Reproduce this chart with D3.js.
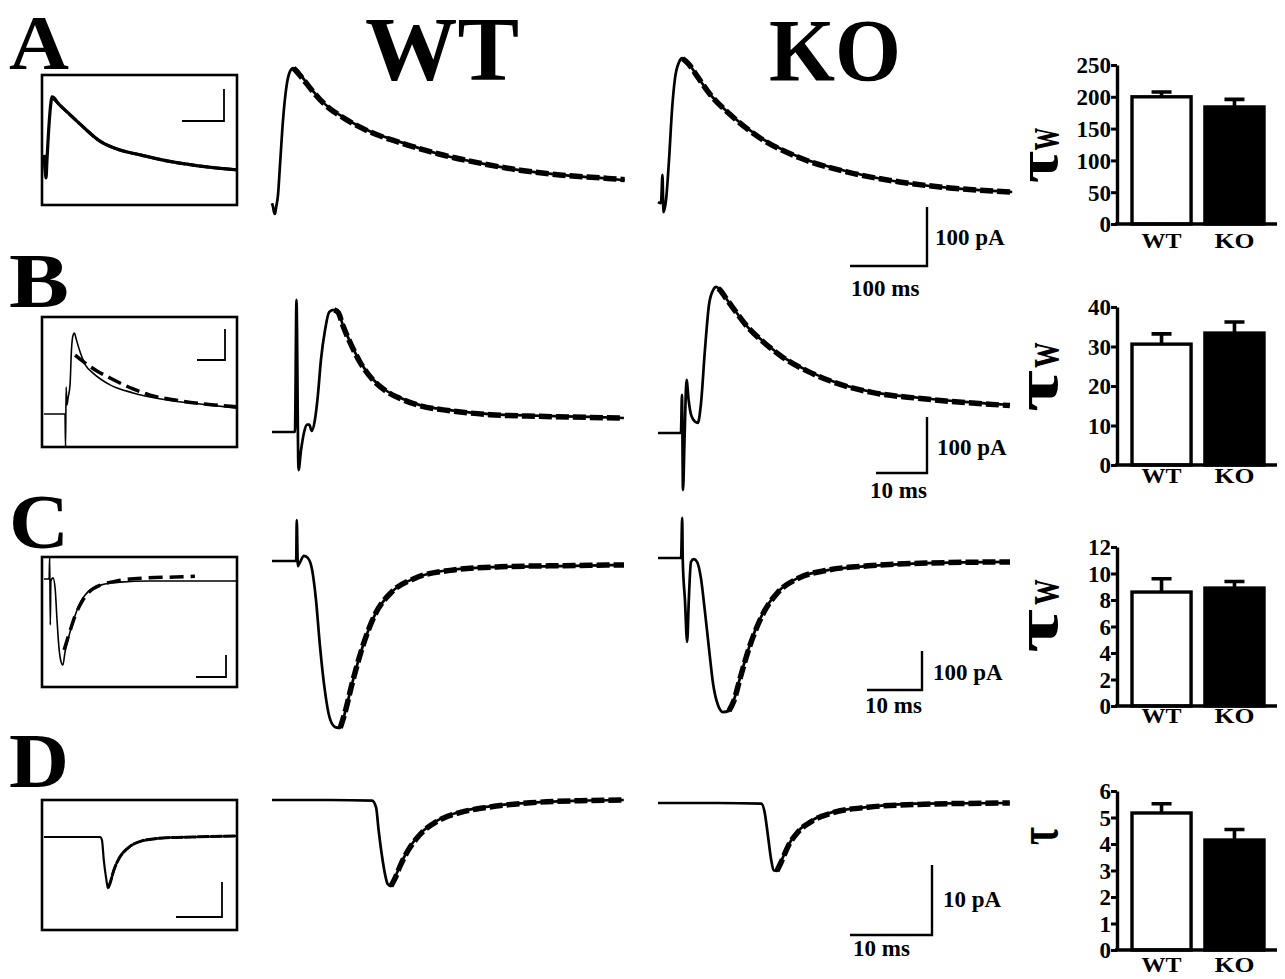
<!DOCTYPE html>
<html>
<head>
<meta charset="utf-8">
<script src="https://cdn.jsdelivr.net/npm/d3@7/dist/d3.min.js"></script>
<style>
  body { margin: 0; background: #fff; }
  text { font-family: "Liberation Serif", "Times New Roman", serif; font-weight: bold; fill: #000; }
</style>
</head>
<body>
<svg id="fig" width="1285" height="979"></svg>
<script>
// ---- data: traces as [time ms, current pA] ----
const aWt = [[0,3],[1.3,-3],[2.6,-12],[3.9,-15],[5.2,-5],[7.8,17],[10.4,68],[14.3,144],[18.2,195],[22.1,222],[27.3,232],[32.5,229],[40.3,215],[51.9,195],[68.8,171],[94.8,147],[127,125],[166,107],[218,86],[270,71],[322,59],[374,51],[426,46],[458,42]];
const aWtFit = [[28,232],[40,214],[52,194],[69,170],[95,146],[127,124],[166,106],[218,86],[270,71],[322,59],[374,51],[426,46],[458,43]];
const aKo = [[0,5],[3.9,3],[5.8,51],[7.1,-12],[10.4,8],[14.3,76],[18.2,161],[22.1,215],[27.3,242],[31.2,249],[39,241],[50.6,219],[67.5,188],[93.5,154],[132,115],[184,81],[249,56],[314,39],[379,29],[460,22]];
const aKoFit = [[32,248],[39,240],[51,218],[68,187],[94,153],[132,114],[184,80],[249,55],[314,39],[379,29],[460,22]];
const aInset = [[0,63],[2.4,16],[4.8,-9],[7.1,47],[11.9,156],[16.7,228],[19,244],[23.8,241],[33,225],[55,197],[86,159],[133,106],[181,78],[229,63],[293,44],[371,28],[460,16]];
const aInsetFit = [[19,244],[33,225],[55,197],[86,159],[133,106],[181,78],[229,63],[293,44],[371,28],[460,16]];

const bWt = [[0,0],[4.5,0],[4.8,236],[5.2,-68],[5.7,-32],[6.3,0],[6.9,13],[7.3,13],[7.8,2],[8.4,21],[9.0,66],[9.6,129],[10.4,182],[11.2,214],[12.0,218],[13.0,214],[13.9,191],[15.3,161],[17.3,125],[19.6,96],[22.2,75],[25.1,61],[29.0,48],[34.9,39],[42.7,32],[52.5,29],[62.4,27],[69,25]];
const bWtFit = [[12.2,218],[13,213],[13.9,190],[15.3,160],[17.3,124],[19.6,95],[22.2,74],[25.1,60],[29,47],[34.9,38],[42.7,31],[52.5,28],[62.4,26],[69,25]];
const bKo = [[0,0],[4.5,0],[4.7,68],[4.9,-102],[5.2,-12],[5.6,95],[6.0,59],[6.5,32],[7.3,20],[7.8,18],[8.4,50],[9.2,148],[10.0,229],[10.8,255],[11.4,261],[12.2,255],[13.3,241],[15.3,216],[17.6,189],[20.6,164],[24.5,136],[29.4,111],[35.3,89],[42.2,73],[51.0,63],[60.8,55],[69.0,50]];
const bKoFit = [[11.8,258],[12.2,255],[13.3,241],[15.3,216],[17.6,189],[20.6,163],[24.5,135],[29.4,110],[35.3,88],[42.2,72],[51,62],[60.8,54],[69,49]];
const bInset = [[0,0],[7.5,0],[7.7,-106],[7.9,87],[8.2,29],[8.6,52],[9.3,94],[9.8,206],[10.4,255],[10.9,261],[11.4,245],[12.9,200],[15,155],[17.5,132],[23.6,94],[31.8,68],[43.9,45],[55.7,32],[68.9,19]];
const bInsetFit = [[11.1,190],[14.6,165],[18.9,139],[23.6,116],[31.8,81],[37.9,61],[46.8,45],[57.5,32],[68.9,23]];

const cWt = [[0,0],[4.4,0],[4.5,105],[4.7,-13],[5.1,-3],[5.8,13],[6.5,8],[7.3,-23],[8.0,-100],[8.7,-215],[9.6,-331],[10.5,-403],[11.5,-426],[12.4,-428],[13.3,-387],[14.5,-318],[16.4,-223],[18.7,-138],[21.8,-79],[26.0,-44],[32.4,-23],[41.5,-15],[52.4,-13],[64.0,-10]];
const cWtFit = [[12.4,-428],[13.3,-387],[14.5,-318],[16.4,-223],[18.7,-138],[21.8,-79],[26,-44],[32.4,-24],[41.5,-15],[52.4,-12],[64,-10]];
const cKo = [[0,0],[4.2,0],[4.4,103],[4.5,-5],[4.9,-108],[5.3,-215],[5.6,-108],[6.0,-10],[6.5,-3],[7.1,-10],[7.8,-51],[8.5,-133],[9.3,-236],[10.0,-321],[10.9,-377],[11.8,-395],[12.9,-392],[13.8,-364],[14.9,-308],[16.7,-223],[19.1,-141],[21.8,-87],[25.5,-51],[30.9,-31],[38.2,-21],[49.1,-13],[64,-10]];
const cKoFit = [[12.9,-392],[13.8,-366],[14.9,-310],[16.7,-225],[19.1,-143],[21.8,-88],[25.5,-52],[30.9,-31],[38.2,-20],[49.1,-13],[64,-10]];
const cInset = [[0,0],[1.7,0],[1.9,100],[2.1,-209],[2.3,-9],[3,5],[3.7,-41],[4.3,-177],[5,-314],[5.7,-377],[6.3,-391],[7,-332],[8,-277],[9.3,-209],[10.3,-168],[12,-109],[13.7,-73],[16.3,-41],[20.3,-23],[25.3,-14],[35.3,-9],[64.3,-9]];
const cInsetFit = [[6.7,-323],[8.7,-235],[10.3,-170],[13,-95],[16.3,-45],[24.3,-9],[34.3,5],[43.7,9],[50.3,12]];

const dWt = [[0,0],[7.1,0],[12.2,-0.1],[12.7,-1.1],[13.0,-4.3],[13.4,-7.9],[13.8,-10.7],[14.1,-12.0],[14.5,-12.3],[15.0,-11.1],[15.6,-9.4],[16.6,-7.1],[18.0,-4.9],[20.2,-2.9],[22.9,-1.7],[26.6,-0.9],[31.5,-0.4],[37.6,-0.1],[42.9,0]];
const dWtFit = [[14.5,-12.3],[15,-11.2],[15.6,-9.5],[16.6,-7.2],[18,-5],[20.2,-3],[22.9,-1.8],[26.6,-1],[31.5,-0.4],[37.6,-0.1],[42.9,0]];
const dKo = [[0,0],[7.3,0],[12.6,-0.1],[13.0,-1.3],[13.4,-4.6],[13.8,-8.1],[14.1,-9.6],[14.5,-9.7],[15.0,-8.4],[15.9,-6.0],[17.1,-4.0],[18.9,-2.4],[21.3,-1.3],[25.6,-0.6],[31.7,-0.1],[42.9,0]];
const dKoFit = [[14.5,-9.7],[15,-8.5],[15.9,-6.1],[17.1,-4.1],[18.9,-2.5],[21.3,-1.4],[25.6,-0.6],[31.7,-0.2],[42.9,0]];
const dInset = [[0,0],[12.2,0],[12.6,-0.9],[13,-6.6],[13.5,-11.7],[13.9,-14.6],[14.3,-13.4],[15.2,-9.4],[16.5,-5.7],[18.3,-3.1],[21.3,-1.1],[25.7,-0.3],[32.2,0],[42.2,0.3]];
const dInsetFit = [[13.9,-14.6],[14.3,-13.4],[15.2,-9.4],[16.5,-5.7],[18.3,-3.1],[21.3,-1.1],[25.7,-0.3],[32.2,0],[42.2,0.3]];

// scale bars (ms, pA)
const barMs = [100, 10, 10, 10];
const barPa = [100, 100, 100, 10];
const barMsLabels = ["100 ms", "10 ms", "10 ms", "10 ms"];
const barPaLabels = ["100 pA", "100 pA", "100 pA", "10 pA"];

// bar charts: decay time constants (ms)
const groups = ["WT", "KO"];
const tauA = [200, 184], semA = [7.5, 12];
const tauB = [30.6, 33.4], semB = [2.6, 2.8];
const tauC = [8.6, 8.9], semC = [1.0, 0.5];
const tauD = [5.17, 4.15], semD = [0.35, 0.4];
const ticksA = [0, 50, 100, 150, 200, 250];
const ticksB = [0, 10, 20, 30, 40];
const ticksC = [0, 2, 4, 6, 8, 10, 12];
const ticksD = [0, 1, 2, 3, 4, 5, 6];
const tauSub = ["w", "w", "w", ""];

// ---- layout ----
const rows = [
  { key: "A", letterY: 69, wt: aWt, wtFit: aWtFit, ko: aKo, koFit: aKoFit, ins: aInset, insFit: aInsetFit,
    inset: { y: 75, base: 175, msPx: 0.42, paPx: 0.32, sw: 3.2, corner: [224, 121], fitW: 3, dash: "10,2" },
    main: { base: [205, 205], msPx: 0.77, paPx: 0.59, corner: [927, 266], paLab: [935, 245], msLab: [851, 296] },
    bars: { y0: 224, yTop: 65, labY: 248, tau: tauA, sem: semA, ticks: ticksA },
    lab: { tauY: 167, tauLen: 32, tauSize: 60, wY: 139, wLen: 22 } },
  { key: "B", letterY: 307, wt: bWt, wtFit: bWtFit, ko: bKo, koFit: bKoFit, ins: bInset, insFit: bInsetFit,
    inset: { y: 317, base: 414, msPx: 2.8, paPx: 0.31, sw: 1.6, corner: [225, 360], fitW: 3.5, dash: "14,6" },
    main: { base: [432, 433], msPx: 5.1, paPx: 0.56, corner: [927, 473], paLab: [937, 455], msLab: [870, 498] },
    bars: { y0: 465, yTop: 307, labY: 483, tau: tauB, sem: semB, ticks: ticksB },
    lab: { tauY: 391, tauLen: 42, tauSize: 62, wY: 355, wLen: 25 } },
  { key: "C", letterY: 548, wt: cWt, wtFit: cWtFit, ko: cKo, koFit: cKoFit, ins: cInset, insFit: cInsetFit,
    inset: { y: 557, base: 579, msPx: 3.0, paPx: 0.22, sw: 1.6, corner: [226, 677], fitW: 3.5, dash: "14,7" },
    main: { base: [561, 558], msPx: 5.5, paPx: 0.39, corner: [922, 690], paLab: [933, 680], msLab: [865, 713] },
    bars: { y0: 706, yTop: 547, labY: 723, tau: tauC, sem: semC, ticks: ticksC },
    lab: { tauY: 631, tauLen: 44, tauSize: 62, wY: 592, wLen: 25 } },
  { key: "D", letterY: 787, wt: dWt, wtFit: dWtFit, ko: dKo, koFit: dKoFit, ins: dInset, insFit: dInsetFit,
    inset: { y: 800, base: 837, msPx: 4.6, paPx: 3.5, sw: 2.2, corner: [222, 917], fitW: 3, dash: "12,1" },
    main: { base: [800, 803], msPx: 8.2, paPx: 7.0, corner: [932, 935], paLab: [943, 907], msLab: [853, 956] },
    bars: { y0: 950, yTop: 791, labY: 972, tau: tauD, sem: semD, ticks: ticksD },
    lab: { tauY: 836, tauLen: 18, tauSize: 56, wY: 0, wLen: 0 } }
];
const insetX = 42, insetW = 195, insetH = 130, insetT0 = 44;
const traceX0 = [272, 658];

const svg = d3.select("#fig");
const lineGen = (xs, ys) => d3.line().x(d => xs(d[0])).y(d => ys(d[1])).curve(d3.curveMonotoneX);

// column headers
svg.append("text").attr("x", 442).attr("y", 80).attr("text-anchor", "middle").attr("font-size", 90)
  .attr("textLength", 154).attr("lengthAdjust", "spacingAndGlyphs").text("WT");
svg.append("text").attr("x", 835).attr("y", 80).attr("text-anchor", "middle").attr("font-size", 88)
  .attr("textLength", 132).attr("lengthAdjust", "spacingAndGlyphs").text("KO");

rows.forEach((r, i) => {
  const g = svg.append("g");
  g.append("text").attr("x", 9).attr("y", r.letterY).attr("font-size", 78)
    .attr("textLength", 60).attr("lengthAdjust", "spacingAndGlyphs").text(r.key);

  // inset
  const ins = r.inset;
  const ix = d3.scaleLinear().domain([0, 1]).range([insetT0, insetT0 + ins.msPx]);
  const iy = d3.scaleLinear().domain([0, 1]).range([ins.base, ins.base - ins.paPx]);
  g.append("clipPath").attr("id", "clip" + i).append("rect")
    .attr("x", insetX).attr("y", ins.y).attr("width", insetW).attr("height", insetH);
  const ig = g.append("g").attr("clip-path", `url(#clip${i})`);
  ig.append("path").attr("d", lineGen(ix, iy)(r.ins))
    .attr("fill", "none").attr("stroke", "#000").attr("stroke-width", ins.sw);
  ig.append("path").attr("d", lineGen(ix, iy)(r.insFit))
    .attr("fill", "none").attr("stroke", "#000").attr("stroke-width", ins.fitW).attr("stroke-dasharray", ins.dash);
  g.append("rect").attr("x", insetX).attr("y", ins.y).attr("width", insetW).attr("height", insetH)
    .attr("fill", "none").attr("stroke", "#000").attr("stroke-width", 2.6);
  const [icx, icy] = ins.corner;
  const ibw = ix(barMs[i]) - ix(0), ibh = iy(0) - iy(barPa[i]);
  g.append("path").attr("d", `M${icx - ibw},${icy}H${icx}V${icy - ibh}`)
    .attr("fill", "none").attr("stroke", "#000").attr("stroke-width", 1.8);

  // main traces
  const m = r.main;
  [[r.wt, r.wtFit], [r.ko, r.koFit]].forEach(([tr, fit], k) => {
    const x = d3.scaleLinear().domain([0, 1]).range([traceX0[k], traceX0[k] + m.msPx]);
    const y = d3.scaleLinear().domain([0, 1]).range([m.base[k], m.base[k] - m.paPx]);
    g.append("path").attr("d", lineGen(x, y)(tr))
      .attr("fill", "none").attr("stroke", "#000").attr("stroke-width", 2.7).attr("stroke-linejoin", "round");
    g.append("path").attr("d", lineGen(x, y)(fit))
      .attr("fill", "none").attr("stroke", "#000").attr("stroke-width", 5.5).attr("stroke-dasharray", "13,4");
  });

  // scale bar
  const sx = d3.scaleLinear().domain([0, 1]).range([0, m.msPx]);
  const sy = d3.scaleLinear().domain([0, 1]).range([0, m.paPx]);
  const [cx, cy] = m.corner;
  g.append("path").attr("d", `M${cx - sx(barMs[i])},${cy}H${cx}V${cy - sy(barPa[i])}`)
    .attr("fill", "none").attr("stroke", "#000").attr("stroke-width", 2.4);
  g.append("text").attr("x", m.paLab[0]).attr("y", m.paLab[1]).attr("font-size", 23).text(barPaLabels[i]);
  g.append("text").attr("x", m.msLab[0]).attr("y", m.msLab[1]).attr("font-size", 23).text(barMsLabels[i]);

  // bar chart
  const b = r.bars;
  const yb = d3.scaleLinear().domain([0, d3.max(b.ticks)]).range([b.y0, b.yTop]);
  const xb = d3.scaleBand().domain(groups).range([1132, 1264]).paddingInner(0.19);
  const bg = g.append("g");
  bg.selectAll("rect.bar").data(groups).enter().append("rect").attr("class", "bar")
    .attr("x", d => xb(d)).attr("width", xb.bandwidth())
    .attr("y", (d, j) => yb(b.tau[j])).attr("height", (d, j) => b.y0 - yb(b.tau[j]))
    .attr("fill", (d, j) => j ? "#000" : "#fff").attr("stroke", "#000").attr("stroke-width", 3.4);
  bg.selectAll("path.err").data(groups).enter().append("path").attr("class", "err")
    .attr("d", (d, j) => {
      const c = xb(d) + xb.bandwidth() / 2;
      return `M${c},${yb(b.tau[j])}V${yb(b.tau[j] + b.sem[j])}M${c - 10},${yb(b.tau[j] + b.sem[j])}H${c + 10}`;
    })
    .attr("fill", "none").attr("stroke", "#000").attr("stroke-width", 3.6);
  bg.append("line").attr("x1", 1115).attr("x2", 1277).attr("y1", b.y0).attr("y2", b.y0)
    .attr("stroke", "#000").attr("stroke-width", 3.4);
  const ya = bg.append("g").attr("transform", "translate(1117,0)")
    .call(d3.axisLeft(yb).tickValues(b.ticks).tickFormat(d3.format("d")).tickSize(6).tickSizeOuter(0).tickPadding(0));
  ya.select(".domain").attr("stroke-width", 3.4);
  ya.selectAll(".tick line").attr("stroke-width", 3);
  ya.selectAll(".tick text").attr("font-size", 23).attr("font-family", null).attr("dy", "0.34em");
  bg.selectAll("text.grp").data(groups).enter().append("text").attr("class", "grp")
    .attr("x", d => xb(d) + xb.bandwidth() / 2).attr("y", b.labY).attr("text-anchor", "middle")
    .attr("font-size", 22).attr("textLength", 40).attr("lengthAdjust", "spacingAndGlyphs").text(d => d);

  // rotated tau label
  const L = r.lab;
  bg.append("text").attr("transform", `translate(1057,${L.tauY}) rotate(-90)`).attr("text-anchor", "middle")
    .attr("font-size", L.tauSize).attr("textLength", L.tauLen).attr("lengthAdjust", "spacingAndGlyphs").text("τ");
  if (tauSub[i]) {
    bg.append("text").attr("transform", `translate(1058,${L.wY}) rotate(-90)`).attr("text-anchor", "middle")
      .attr("font-size", 50).attr("textLength", L.wLen).attr("lengthAdjust", "spacingAndGlyphs").text(tauSub[i]);
  }
});
</script>
</body>
</html>
